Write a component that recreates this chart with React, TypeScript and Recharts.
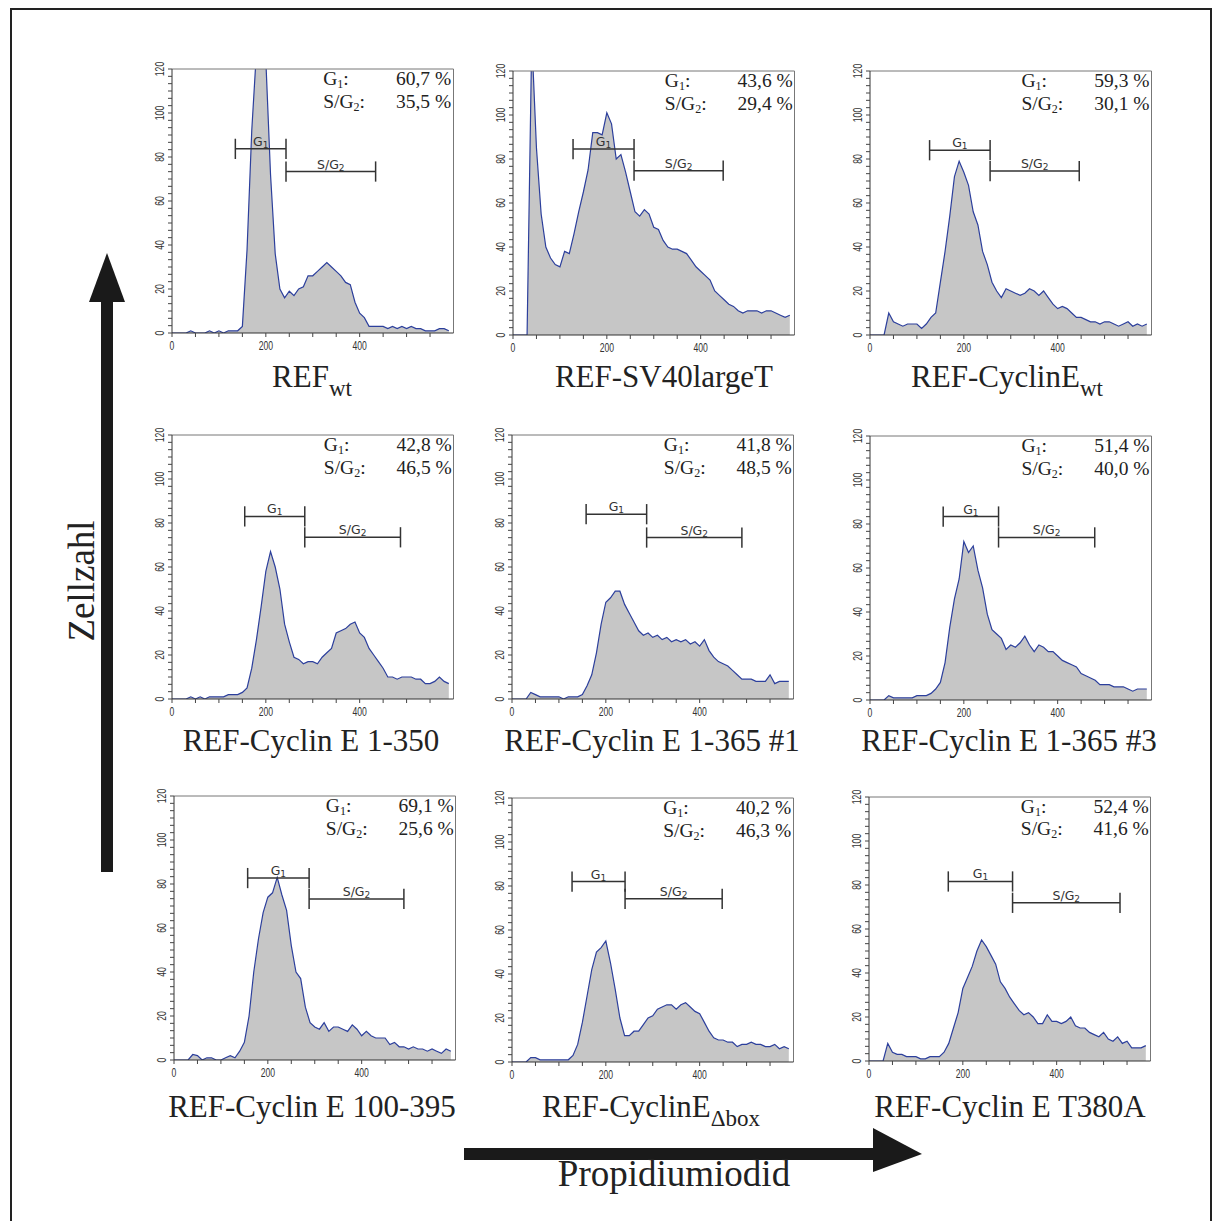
import React from 'react';
import { AreaChart, Area, XAxis, YAxis, ReferenceLine } from 'recharts';

// PI channel bins (x), one count per bin in each histogram
const CHANNELS = [
  0, 10, 20, 30, 40, 50, 60, 70, 80, 90,
  100, 110, 120, 130, 140, 150, 160, 170, 180, 190,
  200, 210, 220, 230, 240, 250, 260, 270, 280, 290,
  300, 310, 320, 330, 340, 350, 360, 370, 380, 390,
  400, 410, 420, 430, 440, 450, 460, 470, 480, 490,
  500, 510, 520, 530, 540, 550, 560, 570, 580, 590,
];

const REF_WT = [
  0, 0, 0, 0, 1, 0, 0, 0, 1, 0, 1, 0, 1, 1, 1, 3, 38, 92, 128, 135,
  124, 72, 36, 20, 16, 19, 17, 20, 21, 26, 26, 28, 30, 32, 30, 28, 26, 23, 22, 14,
  9, 7, 3, 3, 3, 3, 2, 3, 2, 3, 2, 3, 2, 2, 1, 1, 1, 2, 2, 1,
];
const REF_SV40 = [
  0, 0, 0, 0, 135, 85, 55, 40, 35, 32, 31, 38, 37, 46, 56, 65, 75, 92, 92, 91,
  101, 96, 80, 82, 74, 65, 56, 54, 57, 55, 49, 48, 43, 40, 39, 39, 38, 37, 34, 31,
  29, 27, 25, 20, 18, 16, 14, 13, 11, 10, 11, 11, 11, 10, 11, 11, 10, 9, 8, 9,
];
const REF_CYCE_WT = [
  0, 0, 0, 0, 10, 6, 5, 4, 5, 5, 5, 3, 5, 8, 10, 24, 38, 54, 72, 79,
  74, 68, 56, 50, 38, 32, 24, 20, 17, 21, 20, 19, 18, 19, 21, 20, 18, 20, 17, 14,
  12, 13, 12, 10, 8, 8, 7, 6, 6, 5, 6, 6, 5, 4, 5, 6, 4, 5, 4, 5,
];
const CYCE_1_350 = [
  0, 0, 0, 0, 1, 0, 1, 0, 1, 1, 1, 1, 2, 2, 2, 3, 5, 14, 27, 42,
  58, 67, 60, 50, 34, 26, 19, 18, 16, 17, 17, 16, 19, 21, 23, 30, 31, 32, 34, 35,
  30, 28, 23, 20, 17, 14, 10, 10, 9, 10, 10, 10, 9, 9, 7, 7, 8, 10, 8, 7,
];
const CYCE_1_365_1 = [
  0, 0, 0, 0, 3, 2, 1, 1, 1, 1, 1, 0, 1, 1, 1, 2, 6, 11, 21, 34,
  44, 46, 49, 49, 43, 39, 35, 31, 29, 30, 28, 29, 27, 28, 26, 27, 26, 27, 25, 26,
  24, 27, 22, 19, 17, 16, 15, 13, 11, 9, 9, 9, 8, 8, 8, 11, 7, 8, 8, 8,
];
const CYCE_1_365_3 = [
  0, 0, 0, 0, 2, 1, 1, 1, 1, 1, 2, 2, 2, 3, 5, 8, 17, 33, 46, 55,
  72, 67, 70, 59, 51, 39, 32, 30, 28, 23, 25, 24, 26, 29, 25, 22, 25, 24, 22, 22,
  20, 18, 17, 16, 15, 12, 11, 10, 9, 7, 7, 7, 6, 6, 6, 5, 4, 5, 5, 5,
];
const CYCE_100_395 = [
  0, 0, 0, 0, 2.5, 2, 0, 1, 1, 0, 0, 1, 2, 1, 4, 8, 20, 40, 55, 67,
  74, 76, 83, 75, 68, 52, 40, 37, 24, 17, 15, 14, 17, 13, 15, 15, 14, 13, 16, 14,
  11, 13, 11, 10, 10, 10, 7, 8, 6, 6, 5, 6, 5, 5, 4, 5, 4, 3, 5, 4,
];
const CYCE_DBOX = [
  0, 0, 0, 0, 2, 2, 1, 1, 1, 1, 1, 1, 1, 3, 8, 18, 30, 42, 50, 52,
  55, 45, 33, 20, 12, 12, 14, 14, 17, 20, 21, 24, 25, 26, 26, 24, 26, 27, 25, 23,
  22, 18, 14, 11, 10, 10, 9, 9, 7, 8, 8, 9, 8, 8, 7, 7, 8, 6, 7, 6,
];
const CYCE_T380A = [
  0, 0, 0, 0, 8, 4, 3, 3, 2, 2, 2, 1, 1, 2, 2, 2, 4, 8, 15, 22,
  33, 38, 43, 50, 55, 52, 48, 44, 36, 33, 29, 26, 23, 21, 22, 20, 17, 17, 21, 18,
  18, 17, 18, 20, 16, 15, 15, 13, 12, 11, 13, 10, 9, 11, 8, 9, 6, 6, 6, 7,
];

const SERIES = [REF_WT, REF_SV40, REF_CYCE_WT, CYCE_1_350, CYCE_1_365_1, CYCE_1_365_3, CYCE_100_395, CYCE_DBOX, CYCE_T380A];

const TITLES = ['REF', 'REF-SV40largeT', 'REF-CyclinE', 'REF-Cyclin E 1-350', 'REF-Cyclin E 1-365 #1', 'REF-Cyclin E 1-365 #3', 'REF-Cyclin E 100-395', 'REF-CyclinE', 'REF-Cyclin E T380A'];
const TITLE_SUBS = ['wt', '', 'wt', '', '', '', '', '\u0394box', ''];

const G1_PCT = ['60,7', '43,6', '59,3', '42,8', '41,8', '51,4', '69,1', '40,2', '52,4'];
const SG2_PCT = ['35,5', '29,4', '30,1', '46,5', '48,5', '40,0', '25,6', '46,3', '41,6'];

// gates: [from channel, to channel, marker height]
const G1_GATES = [[135, 243, 83.7], [128, 258, 84.5], [127, 256, 84], [155, 283, 83], [158, 287, 84], [156, 274, 83.4], [157, 288, 82.7], [128, 241, 82], [169, 306, 81.6]];
const SG2_GATES = [[243, 434, 73.4], [258, 448, 74.7], [256, 446, 74.5], [283, 487, 73.5], [287, 490, 73.4], [274, 479, 73.9], [288, 490, 73.2], [241, 448, 74.2], [306, 535, 71.9]];

const X_TICKS = [0, 50, 100, 150, 200, 250, 300, 350, 400, 450, 500, 550];
const Y_TICKS = Array.from({ length: 37 }, (_, i) => (i * 10) / 3);

// plot-area origin of each panel on the page
const PANEL_POS = [
  { left: 171.7, top: 69 }, { left: 513.3, top: 71 }, { left: 870, top: 71 },
  { left: 172.3, top: 435 }, { left: 512.3, top: 435 }, { left: 870, top: 436 },
  { left: 174.3, top: 796 }, { left: 511.7, top: 798.3 }, { left: 869.3, top: 796.7 },
];
const TITLE_POS = [
  { cx: 312, base: 387 }, { cx: 664, base: 387 }, { cx: 1007, base: 387 },
  { cx: 311, base: 751 }, { cx: 652, base: 751 }, { cx: 1009, base: 751 },
  { cx: 312, base: 1117 }, { cx: 651, base: 1117 }, { cx: 1010, base: 1117 },
];

const PLOT_W = 281.5;
const PLOT_H = 264;
const Y_AXIS_W = 44;
const M_TOP = 10;

const XTick = (props: any) => {
  const { x, y, payload } = props;
  if (payload.value % 200 !== 0) return <g />;
  return (
    <g transform={`translate(${x},${y})`}>
      <text textAnchor="middle" dy="0.71em" fontSize={12} fill="#333" fontFamily="Liberation Sans" transform="scale(0.72,1)">
        {payload.value}
      </text>
    </g>
  );
};

const YTick = (props: any) => {
  const { x, y, payload } = props;
  const v = Math.round(payload.value * 1000) / 1000;
  if (v % 20 !== 0) return <g />;
  return (
    <g transform={`translate(${x - 2.5},${y}) rotate(-90)`}>
      <text textAnchor="middle" fontSize={12} fill="#333" fontFamily="Liberation Sans" transform="scale(0.72,1)">
        {v}
      </text>
    </g>
  );
};

const gateLabel = (main: string, sub: string) => (props: any) => {
  const vb = props.viewBox || {};
  return (
    <text x={vb.x + vb.width / 2} y={vb.y - 3} textAnchor="middle" fontSize={12.5} fill="#333" fontFamily="DejaVu Sans">
      {main}
      <tspan fontSize={9} dy={2}>{sub}</tspan>
    </text>
  );
};

const Gate = (gate: number[], main: string, sub: string) => {
  const [a, b, h] = gate;
  const lineProps = { stroke: '#333', strokeWidth: 1.5, ifOverflow: 'visible' as const };
  return [
    <ReferenceLine key={main + 'h'} segment={[{ x: a, y: h }, { x: b, y: h }]} {...lineProps} label={gateLabel(main, sub)} />,
    <ReferenceLine key={main + 'l'} segment={[{ x: a, y: h - 4.6 }, { x: a, y: h + 4.6 }]} {...lineProps} />,
    <ReferenceLine key={main + 'r'} segment={[{ x: b, y: h - 4.6 }, { x: b, y: h + 4.6 }]} {...lineProps} />,
  ];
};

const subStyle: React.CSSProperties = { display: 'inline-block', fontSize: 12, lineHeight: '8px', verticalAlign: -3 };

const Panel = ({ idx }: { idx: number }) => {
  const pos = PANEL_POS[idx];
  const data = CHANNELS.map((ch, i) => ({ ch, count: SERIES[idx][i] }));
  return (
    <div style={{ position: 'absolute', left: pos.left - Y_AXIS_W, top: pos.top - M_TOP }}>
      <AreaChart width={Y_AXIS_W + PLOT_W + 8} height={M_TOP + PLOT_H + 26} data={data} margin={{ top: M_TOP, right: 8, bottom: 0, left: 0 }}>
        <XAxis dataKey="ch" type="number" domain={[0, 600]} ticks={X_TICKS} interval={0} tick={XTick} tickSize={4} tickMargin={4} height={26} axisLine={{ stroke: '#333' }} tickLine={{ stroke: '#444' }} allowDataOverflow />
        <YAxis type="number" domain={[0, 120]} ticks={Y_TICKS} interval={0} tick={YTick} tickSize={4} width={Y_AXIS_W} axisLine={{ stroke: '#333' }} tickLine={{ stroke: '#444' }} allowDataOverflow />
        <ReferenceLine y={120} stroke="#777" strokeWidth={1} />
        <ReferenceLine x={600} stroke="#777" strokeWidth={1} />
        <Area type="linear" dataKey="count" stroke="#2c3f9c" strokeWidth={1.2} fill="#c6c6c6" fillOpacity={1} dot={false} activeDot={false} isAnimationActive={false} />
        {Gate(G1_GATES[idx], 'G', '1')}
        {Gate(SG2_GATES[idx], 'S/G', '2')}
      </AreaChart>
      <div style={{ position: 'absolute', left: Y_AXIS_W + PLOT_W - 130, top: M_TOP, width: 128, fontFamily: 'Liberation Serif', fontSize: 19.5, lineHeight: '20px', color: '#222' }}>
        <div style={{ display: 'flex', justifyContent: 'space-between', whiteSpace: 'nowrap', height: 22.5 }}>
          <span>G<span style={subStyle}>1</span>:</span>
          <span>{G1_PCT[idx]} %</span>
        </div>
        <div style={{ display: 'flex', justifyContent: 'space-between', whiteSpace: 'nowrap', height: 20 }}>
          <span>S/G<span style={subStyle}>2</span>:</span>
          <span>{SG2_PCT[idx]} %</span>
        </div>
      </div>
    </div>
  );
};

const Title = ({ idx }: { idx: number }) => {
  const p = TITLE_POS[idx];
  return (
    <div style={{ position: 'absolute', left: p.cx - 220, top: p.base - 26.5, width: 440, textAlign: 'center', fontFamily: 'Liberation Serif', fontSize: 31, lineHeight: '32px', color: '#222', whiteSpace: 'nowrap' }}>
      {TITLES[idx]}
      {TITLE_SUBS[idx] && <span style={{ fontSize: 23, position: 'relative', top: 9 }}>{TITLE_SUBS[idx]}</span>}
    </div>
  );
};

export default function App() {
  return (
    <div style={{ position: 'absolute', left: 0, top: 0, width: 1212, height: 1221, overflow: 'hidden', background: '#fff' }}>
      <div style={{ position: 'absolute', left: 10, top: 8, width: 1198, height: 1240, border: '2px solid #222' }} />
      <svg width={1212} height={1221} style={{ position: 'absolute', left: 0, top: 0 }}>
        <rect x={101} y={296} width={12} height={576} fill="#1a1a1a" />
        <polygon points="107,253 89,302 125,302" fill="#1a1a1a" />
        <text transform="translate(94,581) rotate(-90)" textAnchor="middle" fontSize={37} fontFamily="Liberation Serif" fill="#222">Zellzahl</text>
        <rect x={464} y={1148} width={414} height={12} fill="#1a1a1a" />
        <polygon points="873,1128 922,1154 873,1172" fill="#1a1a1a" />
        <text x={674} y={1186} textAnchor="middle" fontSize={37} fontFamily="Liberation Serif" fill="#222">Propidiumiodid</text>
      </svg>
      {SERIES.map((_, i) => <Panel key={i} idx={i} />)}
      {SERIES.map((_, i) => <Title key={'t' + i} idx={i} />)}
    </div>
  );
}
